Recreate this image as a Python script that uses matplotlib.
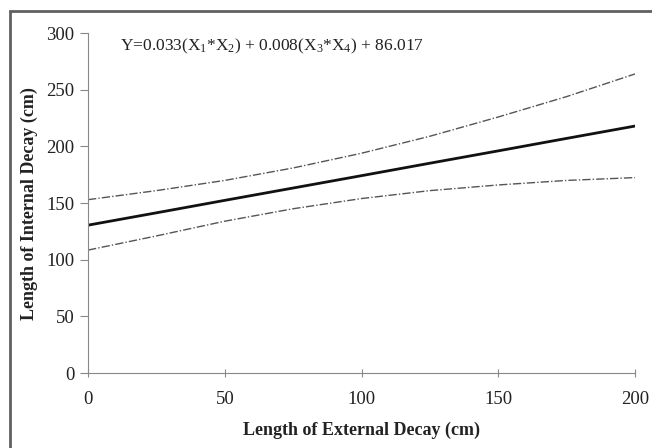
import matplotlib
matplotlib.use("Agg")
import matplotlib.pyplot as plt
from matplotlib.patches import Rectangle

# values
external = [0, 25, 50, 75, 100, 125, 150, 175, 200]
predicted = [130.5, 141.4, 152.4, 163.3, 174.2, 185.2, 196.1, 207.1, 218.0]
upper_band = [153, 161, 170, 181, 194, 209, 226, 244, 264]
lower_band = [108.5, 121, 134, 145, 154, 161, 166, 170, 172.5]

x_ticks = [0, 50, 100, 150, 200]
y_ticks = [0, 50, 100, 150, 200, 250, 300]
equation = r"Y=0.033(X$_1$*X$_2$) + 0.008(X$_3$*X$_4$) + 86.017"

plt.rcParams["font.family"] = "Liberation Serif"
plt.rcParams["mathtext.fontset"] = "custom"
plt.rcParams["mathtext.rm"] = "Liberation Serif"
plt.rcParams["mathtext.it"] = "Liberation Serif"

fig = plt.figure(figsize=(6.52, 4.48), dpi=100)
ax = fig.add_axes([0.135, 0.1674, 0.839, 0.7586])

ax.plot(external, upper_band, color="#555555", lw=1.0, ls=(0, (6, 1.5, 1, 1.5)))
ax.plot(external, lower_band, color="#555555", lw=1.0, ls=(0, (6, 1.5, 1, 1.5)))
ax.plot(external, predicted, color="#111111", lw=2.0)

ax.set_xlim(0, 200)
ax.set_ylim(0, 300)
ax.set_xticks(x_ticks)
ax.set_yticks(y_ticks)
ax.tick_params(axis="both", labelsize=13.5, colors="#888888", labelcolor="#222222")
ax.tick_params(axis="x", direction="inout", length=6, pad=10)
ax.tick_params(axis="y", direction="out", length=6, pad=4)

for side in ["top", "right"]:
    ax.spines[side].set_visible(False)
for side in ["left", "bottom"]:
    ax.spines[side].set_color("#888888")

ax.set_xlabel("Length of External Decay (cm)", fontsize=13, fontweight="bold", color="#222222", labelpad=10)
ax.set_ylabel("Length of Internal Decay (cm)", fontsize=13, fontweight="bold", color="#222222", labelpad=6)

ax.text(0.058, 0.99, equation, transform=ax.transAxes, fontsize=12.5, color="#222222", va="top", ha="left")

# frame around the whole picture (only left and top edges show)
frame = Rectangle((10 / 652, -0.05), 1.2, (448 - 11) / 448 + 0.05, transform=fig.transFigure,
                  fill=False, edgecolor="#606060", lw=2, clip_on=False)
fig.patches.append(frame)

fig.savefig("out.png", dpi=100)
